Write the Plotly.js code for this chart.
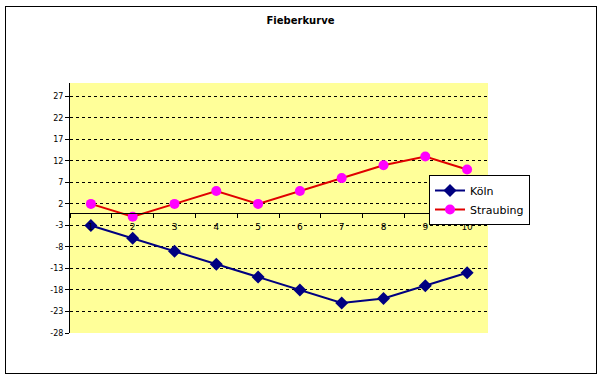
<!DOCTYPE html>
<html>
<head>
<meta charset="utf-8">
<script src="https://cdn.plot.ly/plotly-3.0.1.min.js"></script>
<style>
html,body{margin:0;padding:0;background:#fff;}
#chart{width:601px;height:379px;}
#frame{position:absolute;left:5px;top:6px;width:590px;height:366px;border:1px solid #000;pointer-events:none;}
</style>
</head>
<body>
<div id="chart"></div>
<div id="frame"></div>
<script>
var categories = ["1","2","3","4","5","6","7","8","9","10"];
var koeln = [-3,-6,-9,-12,-15,-18,-21,-20,-17,-14];
var straubing = [2,-1,2,5,2,5,8,11,13,10];
var yTicks = [-28,-23,-18,-13,-8,-3,2,7,12,17,22,27];

var ymin = -28, ymax = 30.1;

var traces = [
  {x: categories, y: koeln, name: "Köln", type: "scatter", mode: "lines+markers",
   line: {color: "#000080", width: 2},
   marker: {symbol: "diamond", size: 10, color: "#000080"}},
  {x: categories, y: straubing, name: "Straubing", type: "scatter", mode: "lines+markers",
   line: {color: "#E00000", width: 2},
   marker: {symbol: "circle", size: 10, color: "#FF00FF"}}
];

var layout = {
  width: 601, height: 379,
  margin: {l: 70, r: 113, t: 83, b: 46},
  paper_bgcolor: "#FFFFFF",
  plot_bgcolor: "#FFFF99",
  showlegend: true,
  hovermode: false,
  title: {text: "<b>Fieberkurve</b>", x: 0.5, xanchor: "center", y: 0.945, yanchor: "middle",
          font: {family: "DejaVu Sans", size: 10, color: "#000"}},
  xaxis: {
    type: "category",
    range: [-0.5, 9.5],
    anchor: "free",
    position: (0 - ymin) / (ymax - ymin),
    showline: true, linecolor: "#000", linewidth: 1,
    showgrid: false, zeroline: false,
    tickson: "boundaries",
    ticks: "outside", ticklen: 4, tickcolor: "#000",
    ticklabelstandoff: 6,
    tickfont: {family: "DejaVu Sans", size: 9, color: "#000"},
    fixedrange: true
  },
  yaxis: {
    range: [ymin, ymax],
    tickvals: yTicks,
    ticktext: yTicks.map(String),
    showline: true, linecolor: "#000", linewidth: 1,
    showgrid: true, gridcolor: "#000", gridwidth: 1, griddash: "3px,3px",
    zeroline: false,
    ticks: "outside", ticklen: 4, tickcolor: "#000",
    tickfont: {family: "DejaVu Sans", size: 8, color: "#000"},
    fixedrange: true
  },
  legend: {
    x: (429 - 70) / 418, y: (333 - 175) / 250, xanchor: "left", yanchor: "top",
    bgcolor: "#FFFFFF", bordercolor: "#000", borderwidth: 1,
    font: {family: "DejaVu Sans", size: 11, color: "#000"},
    itemwidth: 30,
    tracegroupgap: 0
  }
};

Plotly.newPlot("chart", traces, layout, {displayModeBar: false, staticPlot: true});
</script>
</body>
</html>
